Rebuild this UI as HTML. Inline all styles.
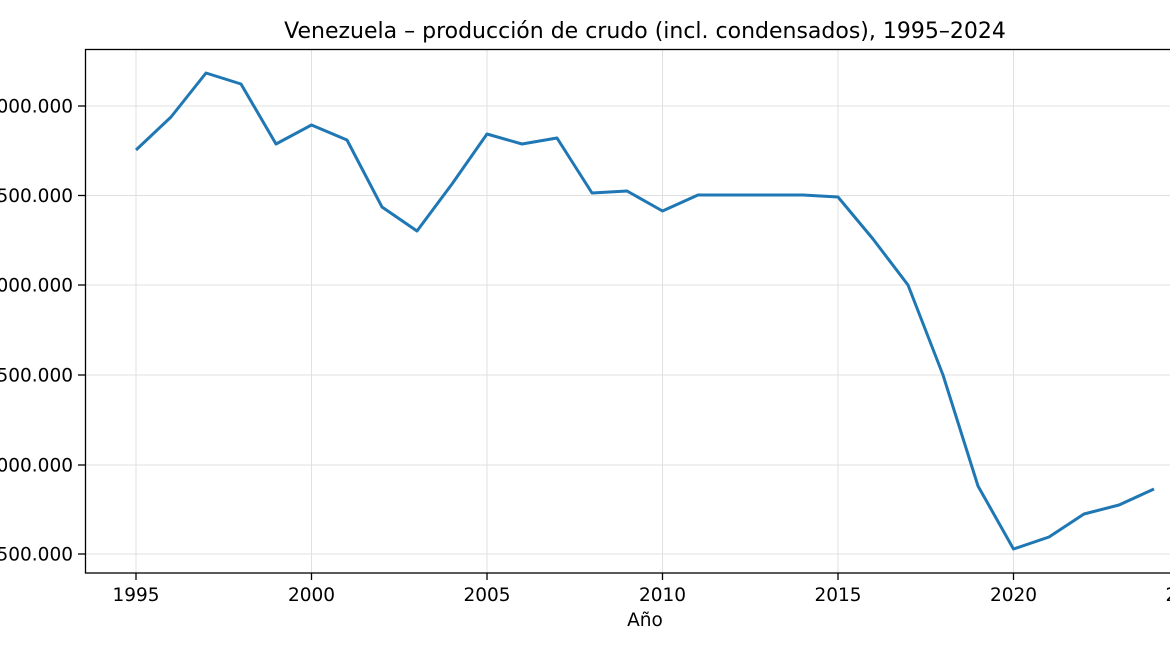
<!DOCTYPE html>
<html><head><meta charset="utf-8"><style>
html,body{margin:0;padding:0;background:#fff;width:1170px;height:649px;overflow:hidden}
svg{display:block;font-family:"DejaVu Sans","Liberation Sans",sans-serif}
</style></head><body>
<svg width="1170" height="649" viewBox="0 0 1170 649">
<g stroke="#e0e0e0" stroke-width="1">
<line x1="136" y1="49" x2="136" y2="573"/><line x1="311.5" y1="49" x2="311.5" y2="573"/>
<line x1="487" y1="49" x2="487" y2="573"/><line x1="662.5" y1="49" x2="662.5" y2="573"/>
<line x1="838" y1="49" x2="838" y2="573"/><line x1="1013.5" y1="49" x2="1013.5" y2="573"/>
<line x1="85" y1="106" x2="1170" y2="106"/><line x1="85" y1="195.5" x2="1170" y2="195.5"/>
<line x1="85" y1="285" x2="1170" y2="285"/><line x1="85" y1="375" x2="1170" y2="375"/>
<line x1="85" y1="465" x2="1170" y2="465"/><line x1="85" y1="554" x2="1170" y2="554"/>
</g>
<polyline fill="none" stroke="#1f77b4" stroke-width="3" stroke-linejoin="round" points="136,150 171,117 206,73 241,84 276,144 311.5,125 347,140 382,207 417,231 452,184 487,134 522,144 557,138 592,193 627,191 662.5,211 698,195 733,195 768,195 803,195 838,197 873,239 908,285 943,375 978,486 1013.5,549 1049,537 1084,514 1119,505 1154,489"/>
<g stroke="#000" stroke-width="1.3" fill="none">
<rect x="85.5" y="49.5" width="1100" height="523.5"/>
<line x1="136" y1="573" x2="136" y2="580"/><line x1="311.5" y1="573" x2="311.5" y2="580"/>
<line x1="487" y1="573" x2="487" y2="580"/><line x1="662.5" y1="573" x2="662.5" y2="580"/>
<line x1="838" y1="573" x2="838" y2="580"/><line x1="1013.5" y1="573" x2="1013.5" y2="580"/>
<line x1="78" y1="106" x2="85" y2="106"/><line x1="78" y1="195.5" x2="85" y2="195.5"/>
<line x1="78" y1="285" x2="85" y2="285"/><line x1="78" y1="375" x2="85" y2="375"/>
<line x1="78" y1="465" x2="85" y2="465"/><line x1="78" y1="554" x2="85" y2="554"/>
</g>
<g font-size="18.5" fill="#000" text-anchor="end">
<text x="73" y="112.5">3.000.000</text><text x="73" y="202">2.500.000</text>
<text x="73" y="291.5">2.000.000</text><text x="73" y="381.5">1.500.000</text>
<text x="73" y="471.5">1.000.000</text><text x="73" y="560.5">500.000</text>
</g>
<g font-size="18.5" fill="#000" text-anchor="middle">
<text x="136" y="601">1995</text><text x="311.5" y="601">2000</text><text x="487" y="601">2005</text>
<text x="662.5" y="601">2010</text><text x="838" y="601">2015</text><text x="1013.5" y="601">2020</text>
<text x="1189" y="601">2025</text>
<text x="645" y="626">Año</text>
<text x="645" y="38" font-size="22">Venezuela – producción de crudo (incl. condensados), 1995–2024</text>
</g>
</svg>
</body></html>
